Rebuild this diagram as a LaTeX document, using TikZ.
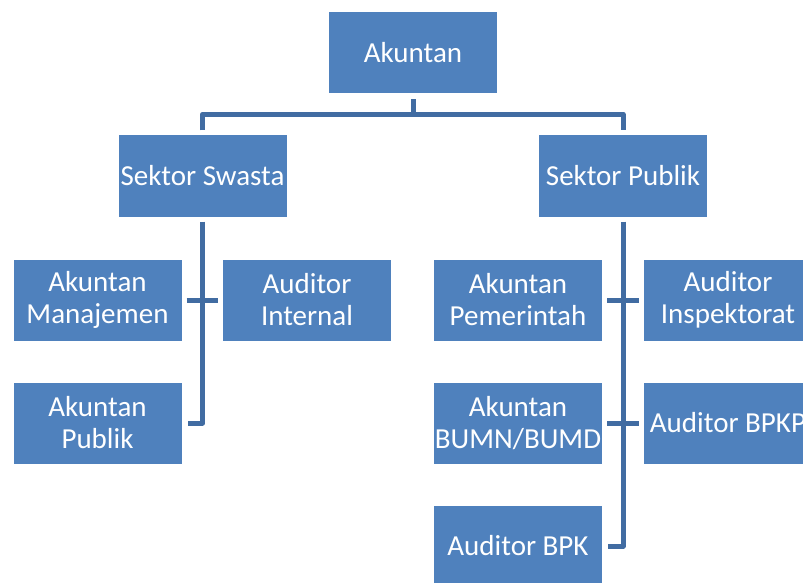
\documentclass[tikz,border=0pt]{standalone}
\usepackage{fontspec}
\setmainfont{Carlito}
\usepackage{tikz}
\usetikzlibrary{calc}
\definecolor{boxblue}{RGB}{79,129,189}
\definecolor{lineblue}{RGB}{65,108,162}
\tikzstyle{block} = [fill=boxblue, rectangle, inner sep=0pt,
    minimum height=81pt, minimum width=168pt, text=white, align=center,
    font=\fontsize{29}{32}\selectfont]
\tikzstyle{link} = [draw=lineblue, line width=5pt, line join=round]
\begin{document}
\begin{tikzpicture}[x=1pt, y=-1pt]
    \useasboundingbox (0,0) rectangle (803,583);
    \clip (0,0) rectangle (803,583);
    % We start by placing the blocks
    \node [block] (akuntan) at (413,52.5) {Akuntan};
    \node [block] (swasta) at (202.5,176) {Sektor Swasta};
    \node [block] (publik) at (623,176) {Sektor Publik};
    \node [block] (manajemen) at (97.5,300) {Akuntan\\Manajemen};
    \node [block] (internal) at (307,300) {Auditor\\Internal};
    \node [block] (akpublik) at (97.5,423) {Akuntan\\Publik};
    \node [block] (pemerintah) at (518,300) {Akuntan\\Pemerintah};
    \node [block] (inspektorat) at (728,300) {Auditor\\Inspektorat};
    \node [block] (bumn) at (518,423) {Akuntan\\BUMN/BUMD};
    \node [block] (bpkp) at (728,423) {Auditor BPKP};
    \node [block] (bpk) at (518,546) {Auditor BPK};
    % top level
    \coordinate (split) at ($(akuntan.south)+(0,21)$);
    \draw [link] ([yshift=-6pt]akuntan.south) -- (split);
    \draw [link] ([yshift=5pt]swasta.north) |- (split) -| ([yshift=5pt]publik.north);
    % sektor swasta
    \draw [link] ([yshift=-5pt]swasta.south) |- ([xshift=6pt]akpublik.east);
    \draw [link] ([xshift=5pt]manajemen.east) -- ([xshift=-5pt]internal.west);
    % sektor publik
    \draw [link] ([yshift=-5pt]publik.south) |- ([xshift=6pt]bpk.east);
    \draw [link] ([xshift=5pt]pemerintah.east) -- ([xshift=-5pt]inspektorat.west);
    \draw [link] ([xshift=5pt]bumn.east) -- ([xshift=-5pt]bpkp.west);
\end{tikzpicture}
\end{document}
